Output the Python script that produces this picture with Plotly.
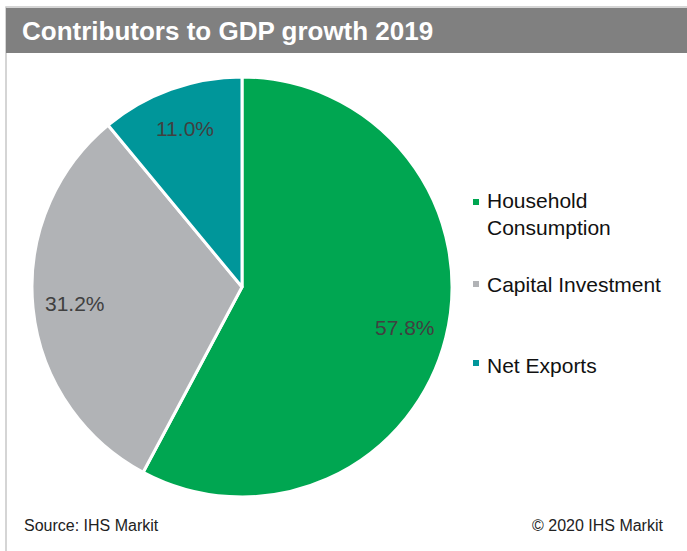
import math
import plotly.graph_objects as go

# Contributors to GDP growth, 2019 (share of growth, %)
categories = ["Household Consumption", "Capital Investment", "Net Exports"]
legend_labels = ["Household<br>Consumption", "Capital Investment", "Net Exports"]
shares = [57.8, 31.2, 11.0]
colors = ["#00A651", "#B1B3B6", "#00969A"]

W, H = 687, 551
FONT = "Liberation Sans, Arial, sans-serif"


def px(x):
    return x / W


def py(y):
    return 1 - y / H


# pie geometry in pixels
cx, cy, r = 242, 287, 210

fig = go.Figure()
fig.add_trace(go.Pie(
    labels=categories,
    values=shares,
    sort=False,
    direction="clockwise",
    rotation=0,
    marker=dict(colors=colors, line=dict(color="white", width=3)),
    textinfo="none",
    hoverinfo="label+percent",
    showlegend=False,
    domain=dict(x=[px(cx - r), px(cx + r)], y=[py(cy + r), py(cy - r)]),
))

annotations = []
shapes = []

# percentage labels placed along each slice's bisector
total = sum(shares)
cum = 0.0
for v in shares:
    mid = (cum + v / 2) / total
    cum += v
    th = 2 * math.pi * mid
    lx = cx + 0.8 * r * math.sin(th)
    ly = cy - 0.8 * r * math.cos(th)
    annotations.append(dict(
        x=px(lx), y=py(ly), xref="paper", yref="paper",
        text=f"{v:.1f}%", showarrow=False,
        xanchor="center", yanchor="middle",
        font=dict(family=FONT, size=21, color="#404040"),
    ))

# legend entries
legend_y = [214, 284, 365]
swatch_y = [202, 284, 363]
for lab, col, ty, sy in zip(legend_labels, colors, legend_y, swatch_y):
    annotations.append(dict(
        x=px(485), y=py(ty), xref="paper", yref="paper",
        text=lab, showarrow=False, align="left",
        xanchor="left", yanchor="middle",
        font=dict(family=FONT, size=21, color="#111111"),
    ))
    shapes.append(dict(
        type="rect", xref="paper", yref="paper",
        x0=px(473), x1=px(479), y0=py(sy + 3), y1=py(sy - 3),
        fillcolor=col, line=dict(width=0),
    ))

# frame and title bar
shapes.append(dict(type="rect", xref="paper", yref="paper",
                   x0=px(6), x1=px(W + 10), y0=py(H + 10), y1=py(7),
                   line=dict(color="#C8C8C8", width=1.5), fillcolor="rgba(0,0,0,0)", layer="below"))
shapes.append(dict(type="rect", xref="paper", yref="paper",
                   x0=px(6), x1=px(W + 10), y0=py(53), y1=py(8),
                   fillcolor="#808080", line=dict(width=0), layer="below"))

annotations.append(dict(
    x=px(20), y=py(31), xref="paper", yref="paper",
    text="<b>Contributors to GDP growth 2019</b>", showarrow=False,
    xanchor="left", yanchor="middle",
    font=dict(family=FONT, size=26, color="white"),
))
annotations.append(dict(
    x=px(22), y=py(525), xref="paper", yref="paper",
    text="Source: IHS Markit", showarrow=False,
    xanchor="left", yanchor="middle",
    font=dict(family=FONT, size=16, color="#222222"),
))
annotations.append(dict(
    x=px(666), y=py(525), xref="paper", yref="paper",
    text="© 2020 IHS Markit", showarrow=False,
    xanchor="right", yanchor="middle",
    font=dict(family=FONT, size=16, color="#222222"),
))

fig.update_layout(
    width=W, height=H,
    margin=dict(l=0, r=0, t=0, b=0),
    paper_bgcolor="white",
    plot_bgcolor="white",
    annotations=annotations,
    shapes=shapes,
)

fig.write_html("out.html")
